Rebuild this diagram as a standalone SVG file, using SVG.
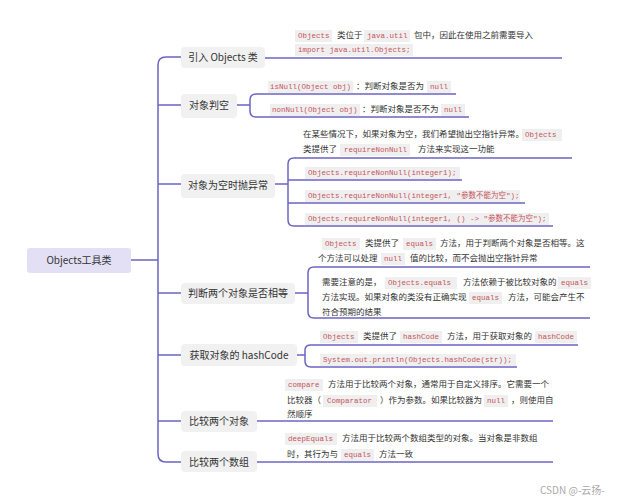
<svg xmlns="http://www.w3.org/2000/svg" width="618" height="500" viewBox="0 0 618 500">
<style>
.c{fill:none;stroke:#6b64c4;stroke-width:1.5}
.nb{fill:#f1f1f1}
.nt{font-family:"Noto Sans CJK SC","Liberation Sans",sans-serif;font-size:10px;fill:#333}
.t{font-family:"Noto Sans CJK SC","Liberation Sans",sans-serif;font-size:8.5px;fill:#333}
.k{font-family:"Liberation Mono","Noto Sans CJK SC",monospace;font-size:7.5px;fill:#c5545b}
.kb{fill:#f0efef}
</style>
<rect width="618" height="500" fill="#fff"/>
<g id="connectors">
<path class="c" d="M131,260 H158 M158,65 V454 M158,65 Q158,57 166,57 H181 M158,105 H181 M158,184 H181 M158,293 H181 M158,355 H181 M158,421 H181 M158,454 Q158,462 166,462 H181"/>
<path class="c" d="M265,58 H562"/>
<path class="c" d="M237,105 H250 M250,105 V100 Q250,94 256,94 H456 M250,105 V111 Q250,117 256,117 H469"/>
<path class="c" d="M275,184 H288 M288,184 V164 Q288,158 294,158 H572 M288,184 V220 Q288,226 294,226 H553 M288,180 H462 M288,203 H525"/>
<path class="c" d="M295,293 H308 M308,293 V273 Q308,267 314,267 H590 M308,293 V312 Q308,318 314,318 H590"/>
<path class="c" d="M297,355 H305 M305,355 V350 Q305,345 311,345 H578 M305,355 V361 Q305,367 311,367 H517"/>
<path class="c" d="M257,421 H553"/>
<path class="c" d="M257,462 H553"/>
</g>
<g id="root"><rect x="27" y="248" width="104" height="25" rx="3" fill="#e3e0f6"/><text class="nt" x="79" y="264" text-anchor="middle" font-size="11">Objects工具类</text></g>
<g id="n1"><rect class="nb" x="181" y="47" width="84" height="21" rx="4"/><text class="nt" x="223" y="61" text-anchor="middle">引入 Objects 类</text></g>
<g id="n2"><rect class="nb" x="181" y="94" width="56" height="24" rx="4"/><text class="nt" x="209" y="109" text-anchor="middle">对象判空</text></g>
<g id="n3"><rect class="nb" x="181" y="174" width="94" height="24" rx="4"/><text class="nt" x="228" y="189" text-anchor="middle">对象为空时抛异常</text></g>
<g id="n4"><rect class="nb" x="181" y="283" width="114" height="21" rx="4"/><text class="nt" x="238" y="297" text-anchor="middle">判断两个对象是否相等</text></g>
<g id="n5"><rect class="nb" x="181" y="344" width="116" height="22" rx="4"/><text class="nt" x="239" y="359" text-anchor="middle">获取对象的 hashCode</text></g>
<g id="n6"><rect class="nb" x="181" y="411" width="76" height="21" rx="4"/><text class="nt" x="219" y="425" text-anchor="middle">比较两个对象</text></g>
<g id="n7"><rect class="nb" x="181" y="451" width="76" height="21" rx="4"/><text class="nt" x="219" y="466" text-anchor="middle">比较两个数组</text></g>
<g id="texts">
<rect class="kb" x="295" y="30" width="37" height="12"/><text class="k" x="298" y="38">Objects</text>
<text class="t" x="337" y="38">类位于</text>
<rect class="kb" x="364" y="30" width="46" height="12"/><text class="k" x="367" y="38">java.util</text>
<text class="t" x="414" y="38">包中，因此在使用之前需要导入</text>
<rect class="kb" x="295" y="44" width="118" height="12"/><text class="k" x="298" y="52">import java.util.Objects;</text>

<rect class="kb" x="268" y="81" width="85" height="12"/><text class="k" x="270" y="89">isNull(Object obj)</text>
<text class="t" x="356" y="89">：判断对象是否为</text>
<rect class="kb" x="427" y="81" width="24" height="12"/><text class="k" x="430" y="89">null</text>
<rect class="kb" x="270" y="104" width="90" height="12"/><text class="k" x="272" y="112">nonNull(Object obj)</text>
<text class="t" x="362" y="112">：判断对象是否不为</text>
<rect class="kb" x="441" y="104" width="24" height="12"/><text class="k" x="444" y="112">null</text>

<text class="t" x="303" y="137">在某些情况下，如果对象为空，我们希望抛出空指针异常。</text>
<rect class="kb" x="522" y="129" width="40" height="12"/><text class="k" x="525" y="137">Objects</text>
<text class="t" x="303" y="152">类提供了</text>
<rect class="kb" x="340" y="144" width="70" height="12"/><text class="k" x="344" y="152">requireNonNull</text>
<text class="t" x="418" y="152">方法来实现这一功能</text>
<rect class="kb" x="305" y="167" width="155" height="12"/><text class="k" x="308" y="175">Objects.requireNonNull(integer1);</text>
<rect class="kb" x="305" y="190" width="215" height="12"/><text class="k" x="308" y="198">Objects.requireNonNull(integer1, "参数不能为空");</text>
<rect class="kb" x="305" y="213" width="244" height="12"/><text class="k" x="308" y="221">Objects.requireNonNull(integer1, () -&gt; "参数不能为空");</text>

<rect class="kb" x="322" y="238" width="38" height="12"/><text class="k" x="325" y="246">Objects</text>
<text class="t" x="365" y="246">类提供了</text>
<rect class="kb" x="403" y="238" width="33" height="12"/><text class="k" x="406" y="246">equals</text>
<text class="t" x="440" y="246">方法，用于判断两个对象是否相等。这</text>
<text class="t" x="318" y="261">个方法可以处理</text>
<rect class="kb" x="381" y="253" width="24" height="12"/><text class="k" x="384" y="261">null</text>
<text class="t" x="410" y="261">值的比较，而不会抛出空指针异常</text>
<text class="t" x="322" y="285">需要注意的是，</text>
<rect class="kb" x="385" y="277" width="72" height="12"/><text class="k" x="388" y="285">Objects.equals</text>
<text class="t" x="463" y="285">方法依赖于被比较对象的</text>
<rect class="kb" x="558" y="277" width="33" height="12"/><text class="k" x="561" y="285">equals</text>
<text class="t" x="322" y="300">方法实现。如果对象的类没有正确实现</text>
<rect class="kb" x="469" y="292" width="33" height="12"/><text class="k" x="472" y="300">equals</text>
<text class="t" x="508" y="300">方法，可能会产生不</text>
<text class="t" x="322" y="315">符合预期的结果</text>

<rect class="kb" x="320" y="331" width="38" height="12"/><text class="k" x="323" y="339">Objects</text>
<text class="t" x="363" y="339">类提供了</text>
<rect class="kb" x="400" y="331" width="42" height="12"/><text class="k" x="403" y="339">hashCode</text>
<text class="t" x="447" y="339">方法，用于获取对象的</text>
<rect class="kb" x="535" y="331" width="42" height="12"/><text class="k" x="538" y="339">hashCode</text>
<rect class="kb" x="320" y="354" width="196" height="12"/><text class="k" x="323" y="362">System.out.println(Objects.hashCode(str));</text>

<rect class="kb" x="285" y="379" width="38" height="12"/><text class="k" x="288" y="387">compare</text>
<text class="t" x="328" y="387">方法用于比较两个对象，通常用于自定义排序。它需要一个</text>
<text class="t" x="287" y="403">比较器（</text>
<rect class="kb" x="323" y="395" width="54" height="12"/><text class="k" x="327" y="403">Comparator</text>
<text class="t" x="380" y="403">）作为参数。如果比较器为</text>
<rect class="kb" x="484" y="395" width="24" height="12"/><text class="k" x="487" y="403">null</text>
<text class="t" x="511" y="403">，则使用自</text>
<text class="t" x="287" y="417">然顺序</text>

<rect class="kb" x="285" y="433" width="52" height="12"/><text class="k" x="288" y="441">deepEquals</text>
<text class="t" x="342" y="441">方法用于比较两个数组类型的对象。当对象是非数组</text>
<text class="t" x="287" y="457">时，其行为与</text>
<rect class="kb" x="341" y="449" width="33" height="12"/><text class="k" x="344" y="457">equals</text>
<text class="t" x="379" y="457">方法一致</text>
<text x="540" y="494" font-family="Noto Sans CJK SC,Liberation Sans,sans-serif" font-size="10" fill="#aaa">CSDN @-云扬-</text>
</g>
</svg>
